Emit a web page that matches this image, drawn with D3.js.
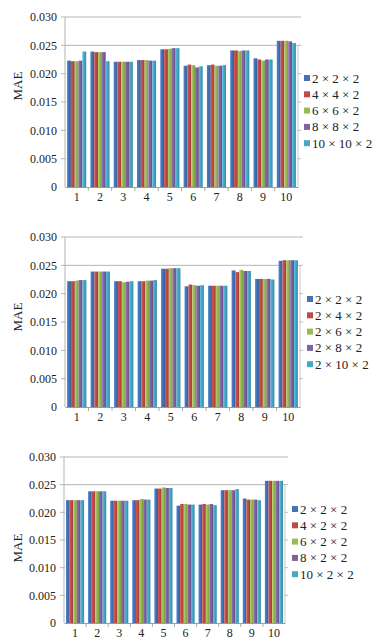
<!DOCTYPE html>
<html>
<head>
<meta charset="utf-8">
<script src="https://cdn.jsdelivr.net/npm/d3@7"></script>
<style>
  body { margin: 0; background: #fff; }
  svg text { font-family: "Liberation Serif", "Times New Roman", serif; fill: #222; }
</style>
</head>
<body>
<div id="chart"></div>
<script>
var categories = ["1", "2", "3", "4", "5", "6", "7", "8", "9", "10"];
var yTicks = [0, 0.005, 0.010, 0.015, 0.020, 0.025, 0.030];
var colors = ["#4273b6", "#be4b48", "#99ba55", "#7e62a1", "#45a9c6"];

// panel 1
var names1 = ["2 \u00d7 2 \u00d7 2", "4 \u00d7 4 \u00d7 2", "6 \u00d7 6 \u00d7 2", "8 \u00d7 8 \u00d7 2", "10 \u00d7 10 \u00d7 2"];
var p1s1 = [0.0223, 0.0239, 0.0221, 0.0224, 0.0243, 0.0214, 0.0215, 0.0241, 0.0227, 0.0258];
var p1s2 = [0.0222, 0.0238, 0.0221, 0.0224, 0.0243, 0.0216, 0.0216, 0.0241, 0.0225, 0.0258];
var p1s3 = [0.0222, 0.0238, 0.0221, 0.0224, 0.0244, 0.0215, 0.0214, 0.0240, 0.0223, 0.0258];
var p1s4 = [0.0223, 0.0238, 0.0221, 0.0223, 0.0245, 0.0211, 0.0214, 0.0241, 0.0225, 0.0257];
var p1s5 = [0.0239, 0.0222, 0.0221, 0.0223, 0.0245, 0.0213, 0.0215, 0.0241, 0.0225, 0.0254];

// panel 2
var names2 = ["2 \u00d7 2 \u00d7 2", "2 \u00d7 4 \u00d7 2", "2 \u00d7 6 \u00d7 2", "2 \u00d7 8 \u00d7 2", "2 \u00d7 10 \u00d7 2"];
var p2s1 = [0.0222, 0.0239, 0.0222, 0.0222, 0.0244, 0.0213, 0.0214, 0.0241, 0.0226, 0.0258];
var p2s2 = [0.0222, 0.0239, 0.0222, 0.0222, 0.0244, 0.0216, 0.0214, 0.0238, 0.0226, 0.0259];
var p2s3 = [0.0223, 0.0239, 0.0220, 0.0223, 0.0245, 0.0215, 0.0214, 0.0242, 0.0226, 0.0259];
var p2s4 = [0.0224, 0.0239, 0.0221, 0.0223, 0.0245, 0.0214, 0.0214, 0.0240, 0.0226, 0.0259];
var p2s5 = [0.0224, 0.0239, 0.0222, 0.0224, 0.0245, 0.0215, 0.0214, 0.0240, 0.0225, 0.0259];

// panel 3
var names3 = ["2 \u00d7 2 \u00d7 2", "4 \u00d7 2 \u00d7 2", "6 \u00d7 2 \u00d7 2", "8 \u00d7 2 \u00d7 2", "10 \u00d7 2 \u00d7 2"];
var p3s1 = [0.0222, 0.0238, 0.0221, 0.0222, 0.0243, 0.0212, 0.0214, 0.0240, 0.0225, 0.0257];
var p3s2 = [0.0222, 0.0238, 0.0221, 0.0222, 0.0243, 0.0215, 0.0215, 0.0240, 0.0223, 0.0257];
var p3s3 = [0.0222, 0.0238, 0.0221, 0.0224, 0.0245, 0.0215, 0.0214, 0.0240, 0.0223, 0.0257];
var p3s4 = [0.0222, 0.0238, 0.0221, 0.0223, 0.0244, 0.0214, 0.0215, 0.0240, 0.0223, 0.0257];
var p3s5 = [0.0222, 0.0238, 0.0221, 0.0223, 0.0244, 0.0214, 0.0213, 0.0242, 0.0222, 0.0257];

var panels = [
  { names: names1, series: [p1s1, p1s2, p1s3, p1s4, p1s5], top: 17, bottom: 187, left: 65, right: 298, legX: 304, legY: 78, titleY: 86 },
  { names: names2, series: [p2s1, p2s2, p2s3, p2s4, p2s5], top: 237, bottom: 407, left: 65, right: 300, legX: 307, legY: 299, titleY: 317 },
  { names: names3, series: [p3s1, p3s2, p3s3, p3s4, p3s5], top: 457, bottom: 623, left: 64, right: 285, legX: 292, legY: 509, titleY: 548 }
];

var svg = d3.select("#chart").append("svg")
  .attr("width", 378)
  .attr("height", 641);

/******** gradients for the 3d look ********/
var defs = svg.append("defs");
colors.forEach(function (c, i) {
  var g = defs.append("linearGradient").attr("id", "bar" + i)
    .attr("x1", "0%").attr("x2", "100%").attr("y1", "0%").attr("y2", "0%");
  g.append("stop").attr("offset", "0%").attr("stop-color", d3.color(c).brighter(0.35));
  g.append("stop").attr("offset", "45%").attr("stop-color", c);
  g.append("stop").attr("offset", "100%").attr("stop-color", d3.color(c).darker(0.6));
});

panels.forEach(function (p) {
  var x = d3.scaleBand().domain(categories).range([p.left, p.right]).paddingInner(0.18).paddingOuter(0.09);
  var x1 = d3.scaleBand().domain(d3.range(p.series.length)).range([0, x.bandwidth()]);
  var y = d3.scaleLinear().domain([0, 0.03]).range([p.bottom, p.top]);

  var g = svg.append("g");

  // back wall gridlines: full above the bars, stubs at the walls below
  var upper = yTicks.filter(function (d) { return d >= 0.025; });
  var lower = yTicks.filter(function (d) { return d > 0 && d < 0.025; });
  g.selectAll(".grid")
    .data(upper)
    .enter().append("line")
    .attr("x1", p.left - 4)
    .attr("x2", p.right + 3)
    .attr("y1", function (d) { return y(d); })
    .attr("y2", function (d) { return y(d); })
    .attr("stroke", "#b5b5b5");
  g.selectAll(".stubL")
    .data(lower)
    .enter().append("line")
    .attr("x1", p.left - 4)
    .attr("x2", p.left + 1)
    .attr("y1", function (d) { return y(d); })
    .attr("y2", function (d) { return y(d); })
    .attr("stroke", "#b5b5b5");
  g.selectAll(".stubR")
    .data(lower)
    .enter().append("line")
    .attr("x1", p.right - 1)
    .attr("x2", p.right + 3)
    .attr("y1", function (d) { return y(d); })
    .attr("y2", function (d) { return y(d); })
    .attr("stroke", "#c0c0c0");

  // left and right wall edges
  g.append("line").attr("x1", p.left).attr("x2", p.left)
    .attr("y1", p.top).attr("y2", p.bottom).attr("stroke", "#b5b5b5");
  g.append("line").attr("x1", p.right).attr("x2", p.right)
    .attr("y1", y(0.025)).attr("y2", p.bottom).attr("stroke", "#c8c8c8");

  // y axis labels
  var yAxis = d3.axisLeft(y).tickValues(yTicks).tickSize(0).tickPadding(0)
    .tickFormat(function (d) { return d === 0 ? "0" : d3.format(".3f")(d); });
  var ya = g.append("g")
    .attr("transform", "translate(" + (p.left - 8) + ",0)")
    .call(yAxis);
  ya.select(".domain").remove();
  ya.selectAll("text").style("font-size", "12px").attr("fill", "#222");

  // bars
  var groups = g.selectAll(".cat")
    .data(categories)
    .enter().append("g")
    .attr("transform", function (d) { return "translate(" + x(d) + ",0)"; });
  groups.selectAll("rect")
    .data(function (d, ci) {
      return p.series.map(function (s, si) { return { si: si, v: s[ci] }; });
    })
    .enter().append("rect")
    .attr("x", function (d) { return x1(d.si); })
    .attr("width", x1.bandwidth())
    .attr("y", function (d) { return y(d.v); })
    .attr("height", function (d) { return p.bottom - y(d.v); })
    .attr("fill", function (d) { return "url(#bar" + d.si + ")"; });

  // x axis
  var xAxis = d3.axisBottom(x).tickSize(0).tickPadding(5);
  var xa = g.append("g")
    .attr("transform", "translate(0," + p.bottom + ")")
    .call(xAxis);
  xa.select(".domain").attr("stroke", "#999");
  xa.selectAll("text").style("font-size", "12px").attr("fill", "#222");
  g.selectAll(".xtick")
    .data(categories.slice(1))
    .enter().append("line")
    .attr("x1", function (d) { return x(d) - x.step() * x.paddingInner() / 2; })
    .attr("x2", function (d) { return x(d) - x.step() * x.paddingInner() / 2; })
    .attr("y1", p.bottom)
    .attr("y2", p.bottom + 4)
    .attr("stroke", "#aaa");

  // axis title
  g.append("text")
    .attr("transform", "translate(22," + p.titleY + ") rotate(-90)")
    .attr("text-anchor", "middle")
    .style("font-size", "13px")
    .text("MAE");

  // legend
  var leg = g.selectAll(".leg")
    .data(p.names)
    .enter().append("g")
    .attr("transform", function (d, i) { return "translate(" + p.legX + "," + (p.legY + i * 16.3) + ")"; });
  leg.append("rect")
    .attr("x", 0).attr("y", -3)
    .attr("width", 6).attr("height", 6)
    .attr("fill", function (d, i) { return colors[i]; });
  leg.append("text")
    .attr("x", 8)
    .attr("dy", "0.35em")
    .style("font-size", "13px")
    .text(function (d) { return d; });
});
</script>
</body>
</html>
